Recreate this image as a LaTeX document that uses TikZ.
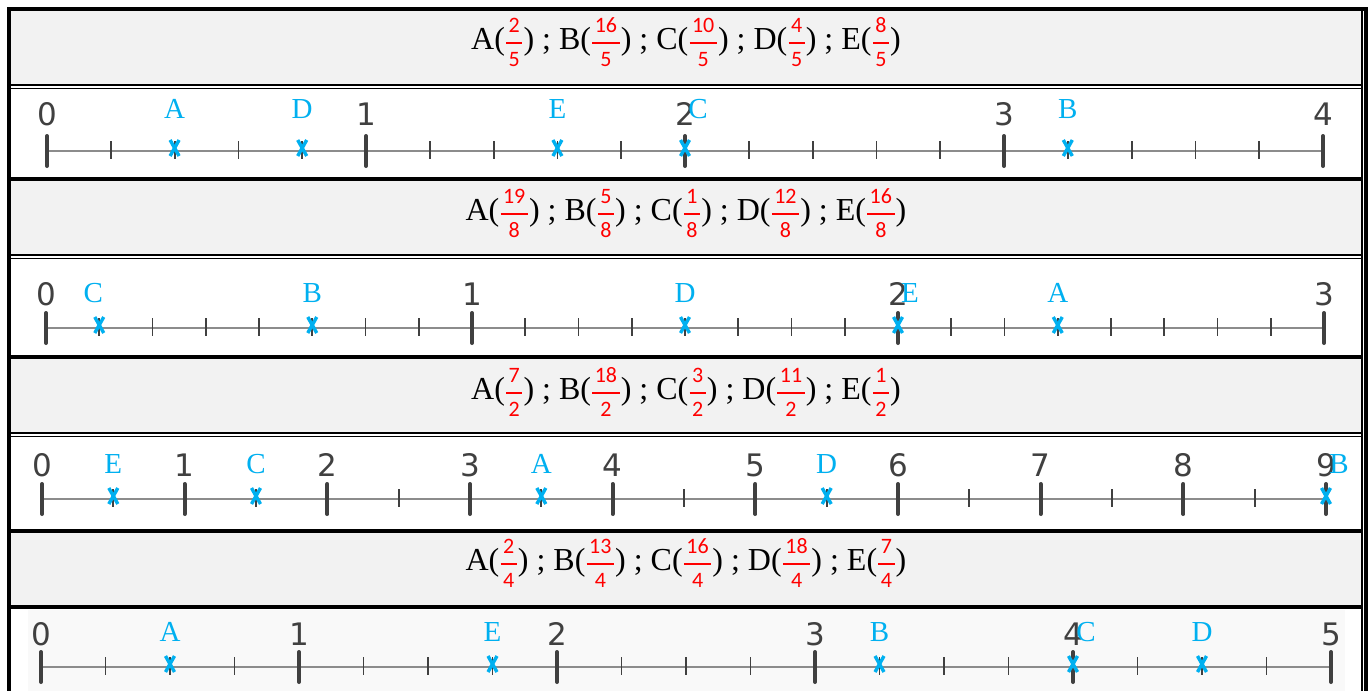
\documentclass[tikz,border=0pt]{standalone}
\usepackage{amsmath}
\usepackage{fontspec}
\setmainfont{Liberation Serif}
\newfontfamily\digitfont{Carlito}
\newfontfamily\axisfont{DejaVu Sans}
\definecolor{cy}{HTML}{00B0F0}
\definecolor{axgray}{HTML}{8C8C8C}
\definecolor{tickc}{HTML}{404040}
\definecolor{rowgray}{HTML}{F2F2F2}
\definecolor{imggray}{HTML}{F9F9F9}
\newcommand\fr[2]{\textcolor{red}{$\genfrac{}{}{1.8pt}{0}{\text{\digitfont\fontsize{22}{22}\selectfont\kern2.5pt #1\kern2.5pt}}{\text{\digitfont\fontsize{22}{22}\selectfont\kern2.5pt #2\kern2.5pt}}$}}
\tikzset{
  formula/.style={font=\fontsize{32}{34}\selectfont, inner sep=0pt},
  axisline/.style={draw=axgray, line width=2pt},
  minortick/.style={draw=tickc, line width=1.8pt},
  majortick/.style={draw=tickc, line width=4pt, line cap=round},
  intlabel/.style={font=\axisfont\fontsize{31}{31}\selectfont, text=tickc, anchor=base, inner sep=0pt},
  ptlabel/.style={font=\fontsize{29}{29}\selectfont, text=cy, anchor=base, inner sep=0pt},
  crossmark/.style={draw=cy, line width=3.4pt},
  thickrule/.style={draw=black, line width=4pt},
  thinrule/.style={draw=black, line width=1.6pt},
}
% #1 name, #2 y, #3 x0, #4 x1, #5 max, #6 subdivisions, #7 int gap, #8 point gap, #9 points name/value/dx
\newcommand\numline[9]{%
  \pgfmathsetmacro\unitlen{(#4-#3)/#5}
  \pgfmathtruncatemacro\nsub{#5*#6}
  \coordinate (#1s) at (#3,#2);
  \coordinate (#1e) at (#4,#2);
  \draw[axisline] (#1s) -- (#1e);
  \foreach \k in {1,...,\nsub} {
    \pgfmathsetmacro\xx{#3+\k*\unitlen/#6}
    \draw[minortick] (\xx,#2-10) -- (\xx,#2+8);
  }
  \foreach \i in {0,...,#5} {
    \pgfmathsetmacro\xx{#3+\i*\unitlen}
    \draw[majortick] (\xx,#2-15) -- (\xx,#2+15);
    \node[intlabel] (#1int\i) at (\xx,#2-#7) {\i};
  }
  \foreach \n/\v/\d in {#9} {
    \pgfmathsetmacro\xx{#3+\v*\unitlen}
    \draw[crossmark] (\xx-4.5,#2-11) -- (\xx+4.5,#2+5);
    \draw[crossmark] (\xx+4.5,#2-11) -- (\xx-4.5,#2+5);
    \node[ptlabel] (#1pt\n) at (\xx+\d,#2-#8) {\n};
  }
}
\begin{document}
\begin{tikzpicture}[x=1pt,y=-1pt]
\useasboundingbox (0,0) rectangle (1370,691);
\fill[white] (0,0) rectangle (1370,691);
% row fills
\fill[rowgray] (11,11) rectangle (1361,84);
\fill[rowgray] (11,181) rectangle (1361,254);
\fill[rowgray] (11,359) rectangle (1361,432);
\fill[rowgray] (11,532) rectangle (1361,605);
\fill[imggray] (28,610) rectangle (1345,691);
% formulas
\node[formula] (f1) at (686,42) {A(\fr{2}{5}) ; B(\fr{16}{5}) ; C(\fr{10}{5}) ; D(\fr{4}{5}) ; E(\fr{8}{5})};
\node[formula] (f2) at (686,213) {A(\fr{19}{8}) ; B(\fr{5}{8}) ; C(\fr{1}{8}) ; D(\fr{12}{8}) ; E(\fr{16}{8})};
\node[formula] (f3) at (686,392) {A(\fr{7}{2}) ; B(\fr{18}{2}) ; C(\fr{3}{2}) ; D(\fr{11}{2}) ; E(\fr{1}{2})};
\node[formula] (f4) at (686,563) {A(\fr{2}{4}) ; B(\fr{13}{4}) ; C(\fr{16}{4}) ; D(\fr{18}{4}) ; E(\fr{7}{4})};
% number lines
\numline{a}{151}{47}{1323}{4}{5}{26}{33}{A/0.4/0, D/0.8/0, E/1.6/0, C/2/13, B/3.2/0}
\numline{b}{328}{46}{1324}{3}{8}{23}{26}{C/0.125/-6, B/0.625/0, D/1.5/0, E/2/12, A/2.375/0}
\numline{c}{499}{42}{1326}{9}{2}{23}{26}{E/0.5/0, C/1.5/0, A/3.5/0, D/5.5/0, B/9/13}
\numline{d}{667}{41}{1331}{5}{4}{22}{26}{A/0.5/0, E/1.75/0, B/3.25/0, C/4/13, D/4.5/0}
% table rules
\draw[thickrule] (7,9) -- (1367,9);
\draw[thinrule] (9,85) -- (1363,85);
\draw[thinrule] (9,88.5) -- (1363,88.5);
\draw[thickrule] (9,179) -- (1363,179);
\draw[thinrule] (9,255) -- (1363,255);
\draw[thinrule] (9,258.5) -- (1363,258.5);
\draw[thickrule] (9,357) -- (1363,357);
\draw[thinrule] (9,433) -- (1363,433);
\draw[thinrule] (9,436.5) -- (1363,436.5);
\draw[thickrule] (9,530.5) -- (1363,530.5);
\draw[thickrule] (9,607) -- (1363,607);
\draw[thickrule] (9,7) -- (9,691);
\draw[thinrule] (1361.8,9) -- (1361.8,691);
\draw[thickrule] (1365.5,7) -- (1365.5,691);
\end{tikzpicture}
\end{document}
